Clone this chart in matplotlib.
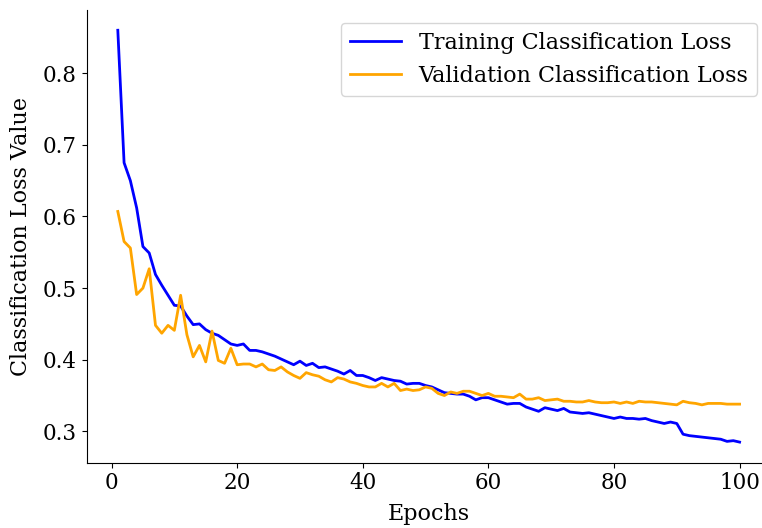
import matplotlib
matplotlib.use('Agg')
import matplotlib.pyplot as plt
import numpy as np

plt.rcParams['font.family'] = ['DejaVu Serif']
plt.rcParams['font.size'] = 16

epochs = np.arange(1, 101)

train_loss = [
    0.860, 0.675, 0.650, 0.612, 0.558, 0.549, 0.519, 0.504, 0.490, 0.476,
    0.475, 0.461, 0.449, 0.450, 0.442, 0.437, 0.434, 0.428, 0.422, 0.420,
    0.422, 0.413, 0.413, 0.411, 0.408, 0.405, 0.401, 0.397, 0.393, 0.398,
    0.392, 0.395, 0.389, 0.390, 0.387, 0.384, 0.380, 0.385, 0.378, 0.378,
    0.375, 0.371, 0.375, 0.373, 0.371, 0.370, 0.366, 0.367, 0.367, 0.364,
    0.362, 0.358, 0.354, 0.353, 0.352, 0.352, 0.349, 0.344, 0.347, 0.347,
    0.344, 0.341, 0.338, 0.339, 0.339, 0.334, 0.331, 0.328, 0.333, 0.331,
    0.329, 0.332, 0.327, 0.326, 0.325, 0.326, 0.324, 0.322, 0.320, 0.318,
    0.320, 0.318, 0.318, 0.317, 0.318, 0.315, 0.313, 0.311, 0.313, 0.311,
    0.296, 0.294, 0.293, 0.292, 0.291, 0.290, 0.289, 0.286, 0.287, 0.285,
]

val_loss = [
    0.607, 0.565, 0.556, 0.491, 0.500, 0.527, 0.448, 0.437, 0.448, 0.441,
    0.490, 0.435, 0.404, 0.420, 0.397, 0.440, 0.399, 0.395, 0.416, 0.393,
    0.394, 0.394, 0.390, 0.394, 0.386, 0.385, 0.390, 0.383, 0.378, 0.374,
    0.382, 0.379, 0.377, 0.372, 0.369, 0.375, 0.373, 0.369, 0.367, 0.364,
    0.362, 0.362, 0.367, 0.362, 0.367, 0.357, 0.359, 0.357, 0.358, 0.362,
    0.360, 0.353, 0.350, 0.355, 0.353, 0.356, 0.356, 0.353, 0.350, 0.353,
    0.349, 0.349, 0.348, 0.347, 0.352, 0.345, 0.345, 0.347, 0.343, 0.344,
    0.345, 0.342, 0.342, 0.341, 0.341, 0.343, 0.341, 0.340, 0.340, 0.341,
    0.339, 0.341, 0.339, 0.342, 0.341, 0.341, 0.340, 0.339, 0.338, 0.337,
    0.342, 0.340, 0.339, 0.337, 0.339, 0.339, 0.339, 0.338, 0.338, 0.338,
]

fig = plt.figure(figsize=(7.62, 5.28), dpi=100)
# the original looks cropped on the right, so the axes run past the figure edge
ax = fig.add_axes([0.1138, 0.1237, 0.8976, 0.858])

ax.plot(epochs, train_loss, color='blue', lw=2, label='Training Classification Loss')
ax.plot(epochs, val_loss, color='orange', lw=2, label='Validation Classification Loss')

ax.set_xlabel('Epochs', labelpad=6)
ax.set_ylabel('Classification Loss Value', labelpad=8)
ax.set_xticks([0, 20, 40, 60, 80, 100])
ax.set_yticks([0.3, 0.4, 0.5, 0.6, 0.7, 0.8])
ax.tick_params(labelsize=15.5)

ax.spines['top'].set_visible(False)
ax.spines['right'].set_visible(False)

ax.legend(loc='upper right', handlelength=2.3, handletextpad=0.8,
          borderaxespad=0.6)

fig.savefig('out.png', dpi=100)
